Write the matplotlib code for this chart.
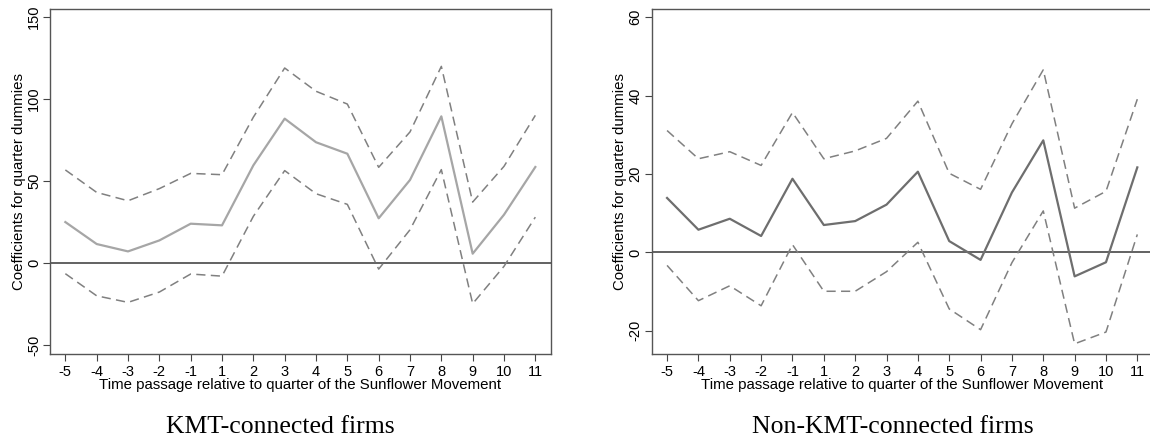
import matplotlib
matplotlib.use('Agg')
from matplotlib import pyplot as plt

# quarters relative to the Sunflower Movement (no quarter 0)
quarters = ['-5', '-4', '-3', '-2', '-1', '1', '2', '3', '4', '5', '6', '7', '8', '9', '10', '11']

# KMT-connected firms
kmt_coef = [25, 11.6, 7.1, 13.8, 24, 23, 59.6, 88.1, 73.7, 66.7, 27.3, 50.7, 89.5, 5.7, 29.5, 58.6]
kmt_upper = [56.8, 43.1, 38, 45.4, 54.7, 53.9, 89, 119, 104.8, 97, 58.4, 80, 120, 37.2, 59, 90.1]
kmt_lower = [-6.5, -20, -24, -17.7, -6.7, -8, 28.5, 56.4, 42.3, 35.8, -3.7, 20.3, 57, -24.8, -2, 28]

# Non-KMT-connected firms
non_coef = [13.9, 5.8, 8.6, 4.2, 18.8, 7.0, 8.0, 12.2, 20.6, 2.9, -1.9, 15.3, 28.6, -6.1, -2.5, 21.7]
non_upper = [31.1, 23.9, 25.7, 22.2, 35.7, 23.9, 25.9, 29.1, 38.6, 20.2, 16.1, 32.8, 46.6, 11.3, 15.6, 39.1]
non_lower = [-3.3, -12.3, -8.5, -13.6, 2.0, -9.9, -9.9, -4.9, 2.6, -14.4, -19.7, -2.6, 10.6, -23.3, -20.3, 4.6]

plt.rcParams['font.family'] = ['Liberation Sans', 'DejaVu Sans']

fig = plt.figure(figsize=(11.5, 4.43), dpi=100)
ax1 = fig.add_axes([50 / 1150, 89 / 443, 501 / 1150, 345 / 443])
ax2 = fig.add_axes([651.7 / 1150, 89 / 443, 501.3 / 1150, 345 / 443])

x = list(range(len(quarters)))


def draw(ax, coef, upper, lower, main_color, yticks, ylim):
    ax.axhline(0, color='#555555', lw=1.3, zorder=1)
    ax.plot(x, upper, color='#808080', lw=1.1, dashes=(6, 3.5))
    ax.plot(x, lower, color='#808080', lw=1.1, dashes=(6, 3.5))
    ax.plot(x, coef, color=main_color, lw=1.6)
    ax.set_xlim(-0.49, 15.5)
    ax.set_ylim(*ylim)
    ax.set_xticks(x)
    ax.set_xticklabels(quarters)
    ax.set_yticks(yticks)
    ax.set_yticklabels([str(t) for t in yticks], rotation=90, va='center')
    ax.tick_params(axis='both', which='major', labelsize=10.5, length=5,
                   width=0.8, color='#444444')
    ax.tick_params(axis='x', pad=3)
    ax.tick_params(axis='y', pad=1.5)
    for s in ax.spines.values():
        s.set_color('#555555')
        s.set_linewidth(1.0)
    ax.set_xlabel('Time passage relative to quarter of the Sunflower Movement',
                  fontsize=10.8, labelpad=-1)
    ax.set_ylabel('Coefficients for quarter dummies', fontsize=10.8, labelpad=1)


draw(ax1, kmt_coef, kmt_upper, kmt_lower, '#a6a6a6', [-50, 0, 50, 100, 150], (-55.5, 155))
draw(ax2, non_coef, non_upper, non_lower, '#6e6e6e', [-20, 0, 20, 40, 60], (-25.9, 62.1))

fig.text(280 / 1150, 1 - 433 / 443, 'KMT-connected firms', ha='center', va='baseline',
         fontsize=18.5, family=['Liberation Serif', 'DejaVu Serif'])
fig.text(893 / 1150, 1 - 433 / 443, 'Non-KMT-connected firms', ha='center', va='baseline',
         fontsize=18.5, family=['Liberation Serif', 'DejaVu Serif'])

fig.savefig('out.png', dpi=100)
